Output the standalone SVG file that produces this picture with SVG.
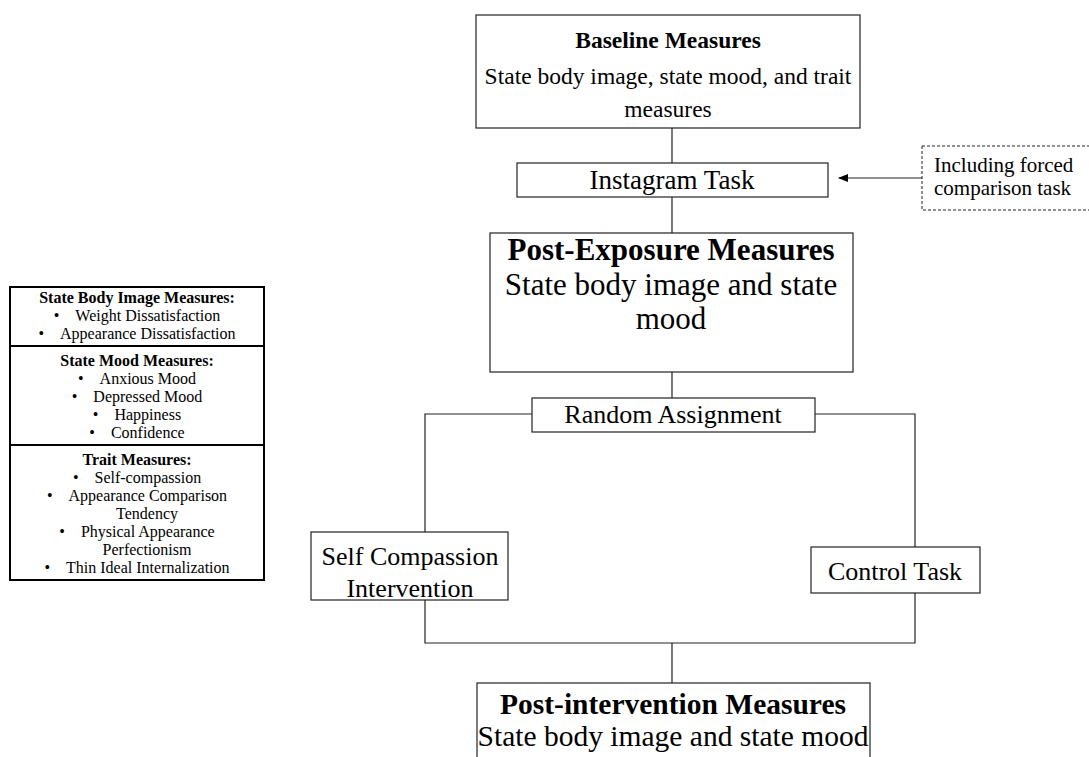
<svg xmlns="http://www.w3.org/2000/svg" width="1089" height="757" viewBox="0 0 1089 757">
<style>
text{font-family:"Liberation Serif","Times New Roman",serif;fill:#000;text-anchor:middle}
.b{font-weight:bold}
.f23{font-size:23.5px}
.f27{font-size:27px}
.f31{font-size:31px}
.f29{font-size:29.5px}
.f26{font-size:26px}
.s{font-size:16px}
.d{font-size:21px;text-anchor:start}
.box{fill:#fff;stroke:#222;stroke-width:1.2}
.lg{fill:#fff;stroke:#000;stroke-width:2}
.ln{fill:none;stroke:#222;stroke-width:1.2}
</style>
<defs>
<marker id="ah" markerWidth="10" markerHeight="8" refX="9" refY="4" orient="auto" markerUnits="userSpaceOnUse">
<path d="M0,0 L10,4 L0,8 z" fill="#000"/>
</marker>
</defs>
<rect width="1089" height="757" fill="#fff"/>
<g id="connectors">
<line class="ln" x1="672" y1="128" x2="672" y2="163"/>
<line class="ln" x1="672" y1="197" x2="672" y2="233"/>
<line class="ln" x1="672" y1="372" x2="672" y2="412"/>
<polyline class="ln" points="532,414 425,414 425,532"/>
<polyline class="ln" points="815,414 915,414 915,547"/>
<polyline class="ln" points="425,600 425,643 915,643 915,593"/>
<line class="ln" x1="672" y1="643" x2="672" y2="683"/>
<line class="ln" x1="922" y1="178" x2="839" y2="178" marker-end="url(#ah)"/>
</g>
<g id="baseline">
<rect class="box" x="476" y="15" width="384" height="113"/>
<text class="f23 b" x="668" y="48">Baseline Measures</text>
<text class="f23" x="668" y="84">State body image, state mood, and trait</text>
<text class="f23" x="668" y="117">measures</text>
</g>
<g id="instagram">
<rect class="box" x="517" y="163" width="311" height="34"/>
<text class="f27" x="672" y="189">Instagram Task</text>
</g>
<g id="forced">
<rect x="922" y="146" width="180" height="64" fill="#fff" stroke="#222" stroke-dasharray="3,2"/>
<text class="d" x="934" y="172">Including forced</text>
<text class="d" x="934" y="195">comparison task</text>
</g>
<g id="postexposure">
<rect class="box" x="490" y="233" width="363" height="139"/>
<text class="f31 b" x="671" y="260">Post-Exposure Measures</text>
<text class="f31" x="671" y="295">State body image and state</text>
<text class="f31" x="671" y="329">mood</text>
</g>
<g id="random">
<rect class="box" x="532" y="398" width="283" height="34"/>
<text class="f26" x="673" y="423">Random Assignment</text>
</g>
<g id="selfcomp">
<rect class="box" x="311" y="532" width="197" height="68"/>
<text class="f26" x="410" y="565">Self Compassion</text>
<text class="f26" x="410" y="597">Intervention</text>
</g>
<g id="control">
<rect class="box" x="811" y="547" width="169" height="46"/>
<text class="f26" x="895" y="580">Control Task</text>
</g>
<g id="postintervention">
<rect class="box" x="477" y="683" width="393" height="90"/>
<text class="f29 b" x="673" y="714">Post-intervention Measures</text>
<text class="f29" x="673" y="746">State body image and state mood</text>
</g>
<g id="legend">
<rect class="lg" x="10" y="287" width="254" height="293"/>
<line x1="10" y1="346" x2="264" y2="346" stroke="#000" stroke-width="2"/>
<line x1="10" y1="445" x2="264" y2="445" stroke="#000" stroke-width="2"/>
<text class="s b" x="137" y="302.5">State Body Image Measures:</text>
<text class="s" x="137" y="320.5">•&#160;&#160;&#160;&#160;Weight Dissatisfaction</text>
<text class="s" x="137" y="338.5">•&#160;&#160;&#160;&#160;Appearance Dissatisfaction</text>
<text class="s b" x="137" y="365.5">State Mood Measures:</text>
<text class="s" x="137" y="383.5">•&#160;&#160;&#160;&#160;Anxious Mood</text>
<text class="s" x="137" y="401.5">•&#160;&#160;&#160;&#160;Depressed Mood</text>
<text class="s" x="137" y="419.5">•&#160;&#160;&#160;&#160;Happiness</text>
<text class="s" x="137" y="437.5">•&#160;&#160;&#160;&#160;Confidence</text>
<text class="s b" x="137" y="464.5">Trait Measures:</text>
<text class="s" x="137" y="482.5">•&#160;&#160;&#160;&#160;Self-compassion</text>
<text class="s" x="137" y="500.5">•&#160;&#160;&#160;&#160;Appearance Comparison</text>
<text class="s" x="147" y="518.5">Tendency</text>
<text class="s" x="137" y="536.5">•&#160;&#160;&#160;&#160;Physical Appearance</text>
<text class="s" x="147" y="554.5">Perfectionism</text>
<text class="s" x="137" y="572.5">•&#160;&#160;&#160;&#160;Thin Ideal Internalization</text>
</g>
</svg>
